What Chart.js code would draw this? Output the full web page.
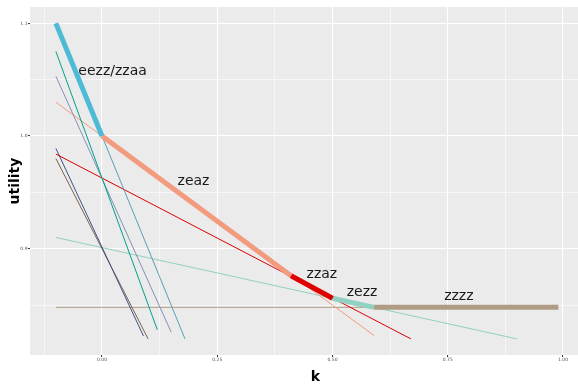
<!DOCTYPE html>
<html>
<head>
<meta charset="utf-8">
<script src="https://cdn.jsdelivr.net/npm/chart.js@4.4.1/dist/chart.umd.min.js"></script>
<style>
  html, body { margin: 0; padding: 0; background: #ffffff; overflow: hidden; }
  #wrap { width: 601px; height: 384px; }
</style>
</head>
<body>
<div id="wrap"><canvas id="c" width="601" height="384"></canvas></div>
<script>
// Utility of each strategy: a straight line in k, from k = -0.1 down to about 0.82
const lineColors = ['#5A9FB8', '#00A087', '#8491B4', '#F39B7F', '#DC0000', '#3C5488', '#7E6148', '#91D1C2', '#B09C85'];
const lineStartK = [-0.1, -0.1, -0.1, -0.1, -0.1, -0.1, -0.1, -0.1, -0.1];
const lineStartU = [1.100, 1.075, 1.053, 1.030, 0.984, 0.989, 0.980, 0.910, 0.848];
const lineEndK   = [0.18, 0.12, 0.15, 0.59, 0.67, 0.09, 0.10, 0.90, 0.59];
const lineEndU   = [0.820, 0.828, 0.826, 0.823, 0.820, 0.8225, 0.820, 0.820, 0.848];

// Best strategy over k (upper envelope), drawn as thick segments
const bestNames  = ['eezz/zzaa', 'zeaz', 'zzaz', 'zezz', 'zzzz'];
const bestColors = ['#4DBBD5', '#F39B7F', '#DC0000', '#91D1C2', '#B09C85'];
const bestBreakK = [-0.1, 0.00, 0.41, 0.50, 0.59, 0.99];
const bestBreakU = [1.100, 1.000, 0.876, 0.856, 0.848, 0.848];

// Where each best-strategy name is written
const labelK = [0.023, 0.1985, 0.477, 0.564, 0.774];
const labelU = [1.057, 0.9594, 0.8776, 0.8609, 0.8574];

// Axis breaks
const xTickValues = [-0.125, 0, 0.125, 0.25, 0.375, 0.5, 0.625, 0.75, 0.875, 1.0];
const xMajorValues = [0, 0.25, 0.5, 0.75, 1.0];
const xMajorLabels = ['0.00', '0.25', '0.50', '0.75', '1.00'];
const yTickValues = [0.85, 0.9, 0.95, 1.0, 1.05, 1.1];
const yMajorValues = [0.9, 1.0, 1.1];
const yMajorLabels = ['0.9', '1.0', '1.1'];

const near = (a, b) => Math.abs(a - b) < 1e-9;
const majorIndex = (list, v) => list.findIndex(m => near(m, v));

const datasets = [];
bestNames.forEach((name, i) => {
  datasets.push({
    label: name,
    data: [{ x: bestBreakK[i], y: bestBreakU[i] }, { x: bestBreakK[i + 1], y: bestBreakU[i + 1] }],
    borderColor: bestColors[i],
    borderWidth: 5,
    order: 0
  });
});
lineColors.forEach((color, i) => {
  datasets.push({
    label: 'line ' + (i + 1),
    data: [{ x: lineStartK[i], y: lineStartU[i] }, { x: lineEndK[i], y: lineEndU[i] }],
    borderColor: color,
    borderWidth: 1,
    order: 1
  });
});

const panelBackground = {
  id: 'panelBackground',
  beforeDraw(chart) {
    const { ctx, chartArea: a } = chart;
    ctx.save();
    ctx.fillStyle = '#EBEBEB';
    ctx.fillRect(a.left, a.top, a.right - a.left, a.bottom - a.top);
    ctx.restore();
  }
};

const segmentLabels = {
  id: 'segmentLabels',
  afterDatasetsDraw(chart) {
    const { ctx, scales } = chart;
    ctx.save();
    ctx.font = '14px "DejaVu Sans"';
    ctx.fillStyle = '#1A1A1A';
    ctx.textAlign = 'center';
    ctx.textBaseline = 'middle';
    bestNames.forEach((name, i) => {
      ctx.fillText(name, scales.x.getPixelForValue(labelK[i]), scales.y.getPixelForValue(labelU[i]));
    });
    ctx.restore();
  }
};

const tickFont = { family: 'DejaVu Sans', size: 4.5 };

new Chart(document.getElementById('c'), {
  type: 'scatter',
  data: { datasets },
  options: {
    responsive: false,
    animation: false,
    showLine: true,
    elements: { point: { radius: 0 }, line: { borderCapStyle: 'butt', tension: 0 } },
    layout: { padding: { top: 7, left: 0, right: 0, bottom: 0 } },
    plugins: { legend: { display: false }, tooltip: { enabled: false } },
    scales: {
      x: {
        type: 'linear',
        min: -0.1562,
        max: 1.0824,
        afterBuildTicks: s => { s.ticks = xTickValues.map(v => ({ value: v })); },
        afterFit: s => { s.height = 29; },
        border: { display: false },
        grid: {
          color: '#FFFFFF',
          lineWidth: c => majorIndex(xMajorValues, c.tick.value) >= 0 ? 1.1 : 0.55,
          tickColor: c => majorIndex(xMajorValues, c.tick.value) >= 0 ? '#333333' : 'rgba(0,0,0,0)',
          tickLength: 2,
          tickWidth: 1
        },
        ticks: {
          autoSkip: false,
          maxRotation: 0,
          padding: 0.5,
          font: tickFont,
          color: '#4D4D4D',
          callback: v => { const i = majorIndex(xMajorValues, v); return i >= 0 ? xMajorLabels[i] : ''; }
        },
        title: {
          display: true,
          text: 'k',
          color: '#000000',
          font: { family: 'DejaVu Sans', size: 14, weight: 'bold', lineHeight: 1 },
          padding: { top: 0, bottom: 0 }
        }
      },
      y: {
        type: 'linear',
        min: 0.8057,
        max: 1.1145,
        afterBuildTicks: s => { s.ticks = yTickValues.map(v => ({ value: v })); },
        afterFit: s => { s.width = 30; },
        border: { display: false },
        grid: {
          color: '#FFFFFF',
          lineWidth: c => majorIndex(yMajorValues, c.tick.value) >= 0 ? 1.1 : 0.55,
          tickColor: c => majorIndex(yMajorValues, c.tick.value) >= 0 ? '#333333' : 'rgba(0,0,0,0)',
          tickLength: 2,
          tickWidth: 1
        },
        ticks: {
          autoSkip: false,
          padding: 0.5,
          font: tickFont,
          color: '#4D4D4D',
          callback: v => { const i = majorIndex(yMajorValues, v); return i >= 0 ? yMajorLabels[i] : ''; }
        },
        title: {
          display: true,
          text: 'utility',
          color: '#000000',
          font: { family: 'DejaVu Sans', size: 14, weight: 'bold', lineHeight: 1 },
          padding: { top: 8.5, bottom: 0 }
        }
      }
    }
  },
  plugins: [panelBackground, segmentLabels]
});
</script>
</body>
</html>
